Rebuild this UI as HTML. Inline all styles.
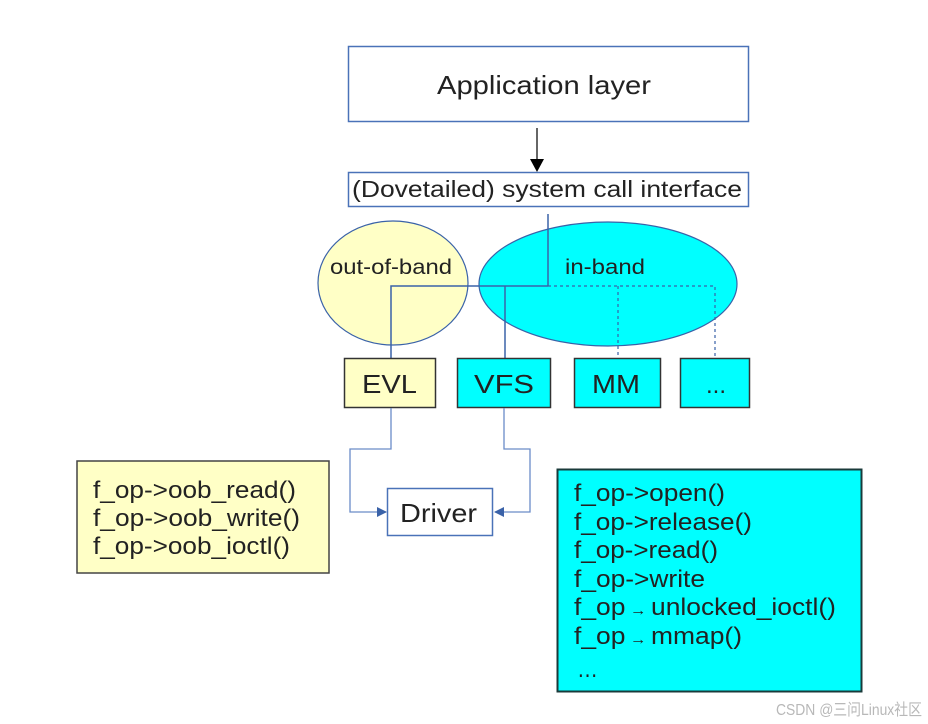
<!DOCTYPE html>
<html><head><meta charset="utf-8"><style>
html,body{margin:0;padding:0;background:#fff;width:928px;height:724px;overflow:hidden}
svg{display:block}
text{font-family:"Liberation Sans","Noto Sans CJK SC",sans-serif;fill:#222}
</style></head><body>
<svg width="928" height="724" viewBox="0 0 928 724" xmlns="http://www.w3.org/2000/svg">
<defs>
<marker id="ab" markerWidth="10" markerHeight="10" refX="9" refY="5" orient="auto" markerUnits="userSpaceOnUse"><path d="M0,0 L10,5 L0,10 z" fill="#3a62a8"/></marker>
</defs>
<rect x="348.5" y="46.5" width="400" height="75" fill="#fff" stroke="#4a72b8" stroke-width="1.5"/>
<text x="437" y="94" font-size="26" textLength="214" lengthAdjust="spacingAndGlyphs">Application layer</text>
<line x1="537" y1="128" x2="537" y2="160" stroke="#000" stroke-width="1.2"/>
<path d="M530,159 L544,159 L537,172 z" fill="#000"/>
<rect x="348.5" y="172.5" width="400" height="34" fill="#fff" stroke="#4a72b8" stroke-width="1.5"/>
<text x="352" y="197" font-size="23" textLength="390" lengthAdjust="spacingAndGlyphs">(Dovetailed) system call interface</text>
<ellipse cx="393" cy="283" rx="75" ry="62" fill="#ffffc6" stroke="#3a62a8" stroke-width="1.2"/>
<ellipse cx="608" cy="284" rx="129" ry="62" fill="#00ffff" stroke="#3a62a8" stroke-width="1.2"/>
<text x="330" y="274" font-size="21" textLength="122" lengthAdjust="spacingAndGlyphs">out-of-band</text>
<text x="565" y="274" font-size="21" textLength="80" lengthAdjust="spacingAndGlyphs">in-band</text>
<g stroke="#3a62a8" stroke-width="1.5" fill="none">
<line x1="548" y1="214" x2="548" y2="286"/>
<polyline points="548,286 391,286 391,358"/>
<line x1="505" y1="286" x2="505" y2="358"/>
<polyline points="548,286 715,286 715,358" stroke-dasharray="3,3" stroke-width="1.2"/>
<line x1="618" y1="286" x2="618" y2="358" stroke-dasharray="3,3" stroke-width="1.2"/>
</g>
<g stroke="#333" stroke-width="1.5">
<rect x="344.5" y="358.5" width="91" height="49" fill="#ffffc6"/>
<rect x="457.5" y="358.5" width="93" height="49" fill="#00ffff"/>
<rect x="574.5" y="358.5" width="86" height="49" fill="#00ffff"/>
<rect x="680.5" y="358.5" width="69" height="49" fill="#00ffff"/>
</g>
<text x="362" y="393" font-size="26" textLength="55" lengthAdjust="spacingAndGlyphs">EVL</text>
<text x="474" y="393" font-size="26" textLength="60" lengthAdjust="spacingAndGlyphs">VFS</text>
<text x="592" y="393" font-size="26" textLength="48" lengthAdjust="spacingAndGlyphs">MM</text>
<text x="706" y="393" font-size="24" textLength="20" lengthAdjust="spacingAndGlyphs">...</text>
<g stroke="#6a8cc8" stroke-width="1.3" fill="none">
<polyline points="391,408 391,449 350,449 350,512 386,512" marker-end="url(#ab)"/>
<polyline points="504,408 504,449 530,449 530,512 495,512" marker-end="url(#ab)"/>
</g>
<rect x="387.5" y="488.5" width="105" height="47" fill="#fff" stroke="#4a72b8" stroke-width="1.5"/>
<text x="400" y="522" font-size="26" textLength="77" lengthAdjust="spacingAndGlyphs">Driver</text>
<rect x="77" y="461" width="252" height="112" fill="#ffffc6" stroke="#444" stroke-width="1.5"/>
<g font-size="24">
<text x="93" y="498" textLength="203" lengthAdjust="spacingAndGlyphs">f_op-&gt;oob_read()</text>
<text x="93" y="526" textLength="207" lengthAdjust="spacingAndGlyphs">f_op-&gt;oob_write()</text>
<text x="93" y="554" textLength="197" lengthAdjust="spacingAndGlyphs">f_op-&gt;oob_ioctl()</text>
</g>
<rect x="557.5" y="469.5" width="304" height="222" fill="#00ffff" stroke="#1a3a3a" stroke-width="2"/>
<g font-size="24">
<text x="574" y="501" textLength="151" lengthAdjust="spacingAndGlyphs">f_op-&gt;open()</text>
<text x="574" y="530" textLength="178" lengthAdjust="spacingAndGlyphs">f_op-&gt;release()</text>
<text x="574" y="558" textLength="144" lengthAdjust="spacingAndGlyphs">f_op-&gt;read()</text>
<text x="574" y="587" textLength="131" lengthAdjust="spacingAndGlyphs">f_op-&gt;write</text>
<text x="574" y="615" textLength="262" lengthAdjust="spacingAndGlyphs">f_op<tspan font-size="15"> → </tspan>unlocked_ioctl()</text>
<text x="574" y="644" textLength="168" lengthAdjust="spacingAndGlyphs">f_op<tspan font-size="15"> → </tspan>mmap()</text>
<text x="577" y="677" textLength="21" lengthAdjust="spacingAndGlyphs">…</text>
</g>
<text x="776" y="715" font-size="16" textLength="146" lengthAdjust="spacingAndGlyphs" style="fill:#b8b8b8">CSDN @三问Linux社区</text>
</svg>
</body></html>
